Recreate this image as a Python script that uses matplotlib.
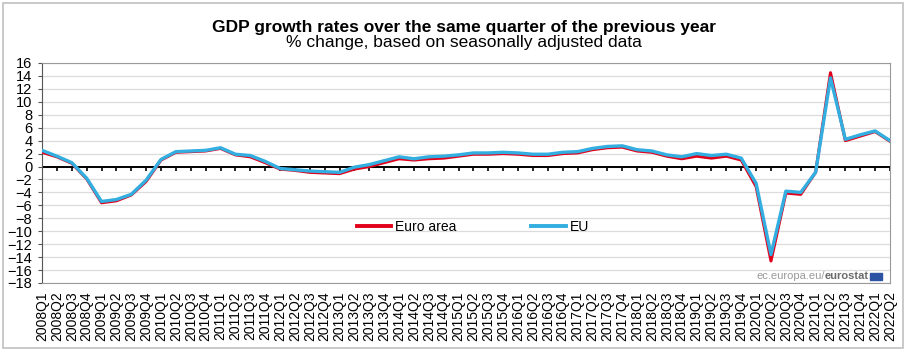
import matplotlib
matplotlib.use('Agg')
import matplotlib.pyplot as plt
from matplotlib.patches import Rectangle
import numpy as np

plt.rcParams['font.family'] = ['Liberation Sans', 'DejaVu Sans']

# quarters 2008Q1 .. 2022Q2
quarters = [f'{y}Q{q}' for y in range(2008, 2023) for q in range(1, 5)][:58]

# y-o-y growth, %
euro_area = [2.2, 1.5, 0.5, -1.9,
             -5.6, -5.3, -4.4, -2.3,
             1.0, 2.2, 2.3, 2.4,
             2.8, 1.8, 1.5, 0.6,
             -0.4, -0.6, -0.9, -1.0,
             -1.1, -0.4, 0.0, 0.6,
             1.2, 1.0, 1.2, 1.3,
             1.6, 1.9, 1.9, 2.0,
             1.9, 1.7, 1.7, 2.0,
             2.1, 2.6, 2.9, 3.0,
             2.4, 2.2, 1.6, 1.2,
             1.6, 1.3, 1.6, 1.0,
             -3.1, -14.6, -4.1, -4.3,
             -0.9, 14.5, 4.0, 4.7,
             5.4, 3.9]
eu = [2.5, 1.6, 0.6, -1.8,
      -5.4, -5.1, -4.3, -2.1,
      1.1, 2.3, 2.4, 2.5,
      2.9, 1.9, 1.7, 0.8,
      -0.3, -0.5, -0.7, -0.8,
      -0.9, -0.1, 0.3, 0.9,
      1.5, 1.2, 1.5, 1.6,
      1.8, 2.1, 2.1, 2.2,
      2.1, 1.9, 1.9, 2.2,
      2.3, 2.8, 3.1, 3.2,
      2.6, 2.4, 1.8, 1.5,
      2.0, 1.7, 1.9, 1.3,
      -2.6, -13.6, -3.8, -4.0,
      -0.9, 13.7, 4.2, 4.9,
      5.5, 4.0]

x = np.arange(len(quarters))

fig = plt.figure(figsize=(9.08, 3.56), dpi=100)
# outer frame
fig.patches.append(Rectangle((3 / 908, 8 / 356), 900 / 908, 345 / 356,
                             transform=fig.transFigure, fill=False,
                             edgecolor='#c0c0c0', lw=1.2))

ax = fig.add_axes([42 / 908, 1 - 283 / 356, 848 / 908, 220 / 356])

ax.set_xlim(0, len(quarters) - 1)
ax.set_ylim(-18, 16)
ax.set_yticks(np.arange(-18, 17, 2))
ax.yaxis.grid(True, color='#dcdcdc', lw=0.9)
ax.set_axisbelow(True)

ax.axhline(0, color='black', lw=1.4, zorder=2)
ax.vlines(x, -0.75, 0, color='black', lw=1.2, zorder=2)

ax.plot(x, euro_area, color='#e2001a', lw=2.2, label='Euro area', zorder=3)
ax.plot(x, eu, color='#32aee0', lw=2.4, label='EU', zorder=4)

ax.set_xticks(x)
ax.set_xticklabels(quarters, rotation=90, fontsize=10)
ax.tick_params(axis='x', length=0, pad=6)
ax.tick_params(axis='y', length=3, labelsize=10.5, pad=4, color='#555555')

for s in ['top', 'right', 'bottom']:
    ax.spines[s].set_color('#9a9a9a')
ax.spines['left'].set_color('#555555')

leg = ax.legend(loc='center', bbox_to_anchor=(0.508, 0.255), ncol=2, frameon=False,
                fontsize=10, handlelength=2.5, handletextpad=0.25, columnspacing=5.4)
for h in leg.get_lines():
    h.set_linewidth(2.8)

fig.text(464 / 908, 1 - 27.5 / 356, 'GDP growth rates over the same quarter of the previous year',
         ha='center', va='center', fontsize=12.5, fontweight='bold')
fig.text(464 / 908, 1 - 42 / 356, '% change, based on seasonally adjusted data',
         ha='center', va='center', fontsize=12.5)

# source mark
ax.add_patch(Rectangle((0.9765, 0.012), 0.014, 0.035, transform=ax.transAxes,
                       color='#2b52a3', zorder=5))
t1 = ax.text(0.975, 0.03, 'eurostat', transform=ax.transAxes, ha='right',
             va='center', fontsize=8, fontweight='bold', color='#6b6b6b')
ax.annotate('ec.europa.eu/', xy=(0, 0.5), xycoords=t1, ha='right', va='center',
            fontsize=8, color='#9a9a9a')

fig.savefig('out.png', dpi=100)
